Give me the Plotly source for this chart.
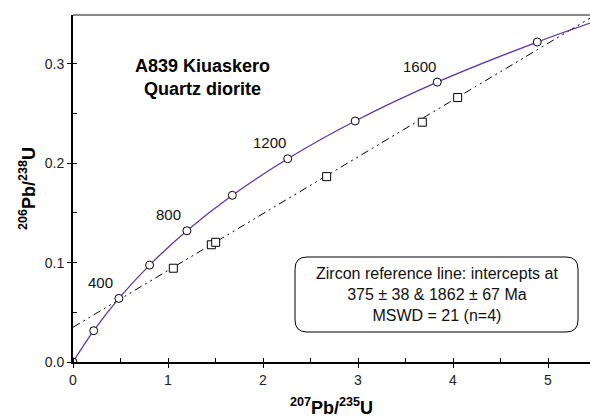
import plotly.graph_objects as go

# Concordia points (every 200 Ma, 0-1800 Ma)
conc_ages = [0, 200, 400, 600, 800, 1000, 1200, 1400, 1600, 1800]
conc_x = [0.0, 0.218, 0.483, 0.806, 1.199, 1.677, 2.260, 2.970, 3.834, 4.887]
conc_y = [0.0, 0.0315, 0.0640, 0.0975, 0.1321, 0.1678, 0.2046, 0.2426, 0.2817, 0.3221]
curve_end_x = [5.45]
curve_end_y = [0.3414]

label_ages = [400, 800, 1200, 1600]

# Zircon analyses (squares)
zr_x = [1.056, 1.456, 1.502, 2.670, 3.677, 4.049]
zr_y = [0.0944, 0.1180, 0.1205, 0.1866, 0.2414, 0.2662]

# Reference line ends
ref_x = [0.0, 5.45]
ref_y = [0.0350, 0.3465]

x_range = [0, 5.442]
y_range = [0, 0.3493]

purple = "#5e35b1"
font = "Liberation Sans, Arial, sans-serif"

fig = go.Figure()

fig.add_trace(go.Scatter(
    x=ref_x, y=ref_y, mode="lines",
    line=dict(color="black", width=1, dash="8px,4px,2px,4px,2px,4px"),
    hoverinfo="skip", showlegend=False))

fig.add_trace(go.Scatter(
    x=conc_x + curve_end_x, y=conc_y + curve_end_y, mode="lines",
    line=dict(color=purple, width=1.3, shape="spline"),
    hoverinfo="skip", showlegend=False))

fig.add_trace(go.Scatter(
    x=conc_x, y=conc_y, mode="markers",
    marker=dict(symbol="circle", size=8, color="white",
                line=dict(color="black", width=1)),
    showlegend=False))

fig.add_trace(go.Scatter(
    x=zr_x, y=zr_y, mode="markers",
    marker=dict(symbol="square", size=8, color="white",
                line=dict(color="black", width=1)),
    showlegend=False))

# dummy trace for overlay axes (inside half of major ticks)
fig.add_trace(go.Scatter(x=[], y=[], xaxis="x2", yaxis="y2", showlegend=False))

# age labels
for age in label_ages:
    i = conc_ages.index(age)
    fig.add_annotation(x=conc_x[i], y=conc_y[i], text=str(age), showarrow=False,
                       xshift=-18, yshift=16,
                       font=dict(family=font, size=15, color="#111"))

# title text
fig.add_annotation(x=1.363, y=0.286, xref="x", yref="y",
                   text="<b>A839 Kiuaskero<br>Quartz diorite</b>", showarrow=False,
                   font=dict(family=font, size=18, color="black"))

# info box
bx0, bx1, by0, by1 = 2.337, 5.316, 0.0302, 0.1057
rx, ry = 12 / 95.0, 12 / 993.3
path = (f"M {bx0+rx},{by0} L {bx1-rx},{by0} Q {bx1},{by0} {bx1},{by0+ry} "
        f"L {bx1},{by1-ry} Q {bx1},{by1} {bx1-rx},{by1} L {bx0+rx},{by1} "
        f"Q {bx0},{by1} {bx0},{by1-ry} L {bx0},{by0+ry} Q {bx0},{by0} {bx0+rx},{by0} Z")
fig.add_shape(type="path", path=path, xref="x", yref="y",
              line=dict(color="black", width=1), fillcolor="white", layer="above")
fig.add_annotation(x=(bx0 + bx1) / 2, y=0.0683, xref="x", yref="y",
                   text="Zircon reference line: intercepts at<br>375 ± 38 & 1862 ± 67 Ma<br>MSWD = 21 (n=4)",
                   showarrow=False, font=dict(family=font, size=16, color="#111"))

# axis titles
fig.add_annotation(x=0.5, y=-0.168, xref="paper", yref="paper",
                   text="<b><sup>207</sup>Pb/<sup>235</sup>U</b>", showarrow=False,
                   font=dict(family=font, size=18, color="black"))
fig.add_annotation(x=-0.114, y=0.5, xref="paper", yref="paper", textangle=-90,
                   text="<b><sup>206</sup>Pb/<sup>238</sup>U</b>", showarrow=False,
                   font=dict(family=font, size=18, color="black"))

# top border (gray)
fig.add_shape(type="line", xref="paper", yref="paper", x0=0, x1=1, y0=1, y1=1,
              line=dict(color="#888888", width=2))

fig.update_layout(
    width=590, height=419,
    margin=dict(l=73, r=0, t=15, b=57, autoexpand=False),
    plot_bgcolor="white", paper_bgcolor="white",
    font=dict(family=font, size=14, color="#222"),
    xaxis=dict(range=x_range, dtick=1, tick0=0, showgrid=False, zeroline=False,
               showline=True, linecolor="black", linewidth=2, automargin=False,
               ticks="outside", ticklen=4, tickcolor="black", tickwidth=1,
               minor=dict(dtick=0.5, ticks="inside", ticklen=4, tickcolor="black"),
               tickfont=dict(size=14, color="#222")),
    yaxis=dict(range=y_range, dtick=0.1, tick0=0, tickformat=".1f", showgrid=False,
               zeroline=False, showline=True, linecolor="black", linewidth=2,
               automargin=False,
               ticks="outside", ticklen=4, tickcolor="black", tickwidth=1,
               minor=dict(dtick=0.05, ticks="inside", ticklen=4, tickcolor="black"),
               tickfont=dict(size=14, color="#222")),
    xaxis2=dict(range=x_range, overlaying="x", anchor="y2", dtick=1, tick0=0,
                ticks="inside", ticklen=4, tickcolor="black", showticklabels=False,
                showgrid=False, zeroline=False, showline=False, automargin=False),
    yaxis2=dict(range=y_range, overlaying="y", anchor="x2", dtick=0.1, tick0=0,
                ticks="inside", ticklen=4, tickcolor="black", showticklabels=False,
                showgrid=False, zeroline=False, showline=False, automargin=False),
)

fig.write_html("out.html", config={"displayModeBar": False},
               post_script="document.body.style.margin='0';")
